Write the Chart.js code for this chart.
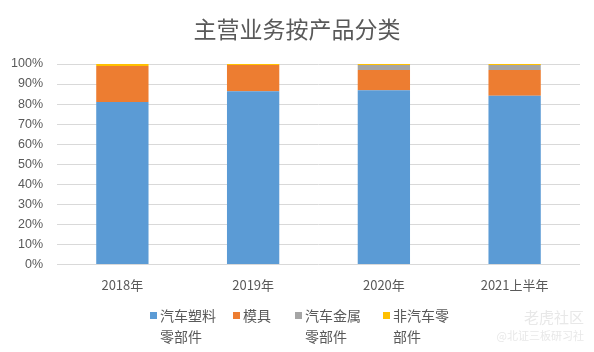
<!DOCTYPE html>
<html>
<head>
<meta charset="utf-8">
<script src="https://cdn.jsdelivr.net/npm/chart.js@4/dist/chart.umd.min.js"></script>
<style>
  body { margin: 0; background: #fff; }
  #wrap { position: relative; width: 594px; height: 352px; font-family: "Noto Sans CJK SC", sans-serif; }
  #title { position: absolute; left: 0; top: 12px; width: 594px; text-align: center; font-size: 23px; color: #595959; line-height: 32px; }
  #legend { position: absolute; top: 305px; left: 0; width: 594px; }
  .item { position: absolute; font-size: 14px; color: #595959; line-height: 21px; }
  .box { position: absolute; left: -10px; top: 7px; width: 7px; height: 7px; }
  #mark { position: absolute; right: 10px; top: 306px; color: #e8e8e8; text-align: right; }
  #mark .a { font-size: 15px; }
  #mark .b { font-size: 11px; }
</style>
</head>
<body>
<div id="wrap">
  <canvas id="myChart" width="594" height="352"></canvas>
  <div id="title">主营业务按产品分类</div>
  <div id="legend"></div>
  <div id="mark"><div class="a">老虎社区</div><div class="b">@北证三板研习社</div></div>
</div>
<script>
const categories = ['2018年', '2019年', '2020年', '2021上半年'];
const seriesNames = [['汽车塑料', '零部件'], ['模具'], ['汽车金属', '零部件'], ['非汽车零', '部件']];
const plasticParts = [0.81, 0.864, 0.869, 0.842];
const molds = [0.18, 0.131, 0.101, 0.128];
const metalParts = [0.0, 0.0, 0.025, 0.025];
const otherParts = [0.01, 0.005, 0.005, 0.005];
const colors = ['#5B9BD5', '#ED7D31', '#A5A5A5', '#FFC000'];
const legendX = [160, 243, 305, 393];

const allSeries = [plasticParts, molds, metalParts, otherParts];

function buildLegend() {
  let html = '';
  for (let i = 0; i < seriesNames.length; i++) {
    html += `<div class="item" style="left:${legendX[i]}px">
               <span class="box" style="background:${colors[i]}"></span>
               ${seriesNames[i].join('<br>')}
             </div>`;
  }
  document.querySelector('#legend').innerHTML = html;
}
buildLegend();

const ctx = document.getElementById('myChart').getContext('2d');
const myChart = new Chart(ctx, {
  type: 'bar',
  data: {
    labels: categories,
    datasets: allSeries.map((values, i) => ({
      label: seriesNames[i].join(''),
      data: values,
      backgroundColor: colors[i],
      barPercentage: 0.4,
      categoryPercentage: 1
    }))
  },
  options: {
    responsive: false,
    animation: false,
    layout: { padding: { top: 64, bottom: 54, left: 0, right: 14 } },
    plugins: { legend: { display: false }, title: { display: false }, tooltip: { enabled: false } },
    scales: {
      x: {
        stacked: true,
        grid: { display: false },
        border: { display: false },
        ticks: { color: '#595959', font: { size: 13, family: '"Noto Sans CJK SC", sans-serif' }, padding: 5 }
      },
      y: {
        stacked: true,
        min: 0,
        max: 1,
        afterFit: scale => { scale.width = 57; },
        ticks: {
          stepSize: 0.1,
          color: '#595959',
          padding: 14,
          font: { size: 12.5, family: '"Liberation Sans", sans-serif' },
          callback: v => Math.round(v * 100) + '%'
        },
        grid: { color: '#d9d9d9', drawTicks: false },
        border: { display: false }
      }
    }
  }
});
</script>
</body>
</html>
